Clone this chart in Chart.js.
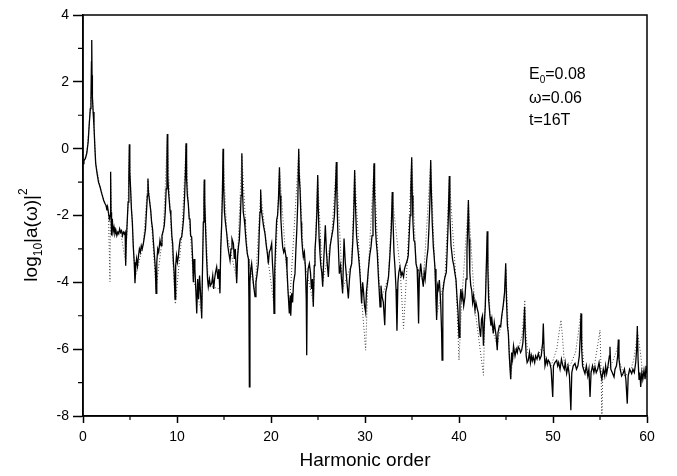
<!DOCTYPE html>
<html>
<head>
<meta charset="utf-8">
<title>Harmonic spectrum</title>
<script src="https://cdn.jsdelivr.net/npm/chart.js@4/dist/chart.umd.min.js"></script>
<style>
  html, body { margin: 0; padding: 0; background: #fff; }
  #wrap { width: 677px; height: 476px; }
</style>
</head>
<body>
<div id="wrap"><canvas id="spectrum" width="677" height="476"></canvas></div>
<script>
// Values
var xTicks = [0, 10, 20, 30, 40, 50, 60];
var yTicks = [-8, -6, -4, -2, 0, 2, 4];
var notes = ['E0=0.08', 'ω=0.06', 't=16T'];

// solid curve: harmonic order / log10 |a|^2
var solidX = [0, 0.1, 0.25, 0.4, 0.55, 0.67, 0.78, 0.85, 0.9, 0.93, 0.96, 1.0, 1.08, 1.17, 1.27, 1.35, 1.5, 1.65, 1.81, 1.95,
  2.1, 2.2, 2.34, 2.45, 2.55, 2.62, 2.7, 2.8, 2.88, 2.94, 2.98, 3.02, 3.06, 3.12, 3.2, 3.3, 3.4, 3.5, 3.6, 3.7,
  3.8, 3.9, 4.0, 4.1, 4.2, 4.3, 4.4, 4.48, 4.54, 4.6, 4.7, 4.8, 4.88, 4.93, 4.98, 5.07, 5.15, 5.25, 5.35, 5.45,
  5.53, 5.6, 5.7, 5.8, 5.89, 6.0, 6.1, 6.2, 6.3, 6.42, 6.55, 6.65, 6.75, 6.85, 6.91, 6.96, 7.05, 7.2, 7.3, 7.4,
  7.48, 7.6, 7.7, 7.77, 7.85, 7.95, 8.05, 8.19, 8.3, 8.4, 8.55, 8.65, 8.75, 8.85, 8.93, 8.97, 9.02, 9.1, 9.26, 9.35,
  9.45, 9.54, 9.62, 9.7, 9.79, 9.86, 9.95, 10.05, 10.14, 10.25, 10.35, 10.5, 10.6, 10.7, 10.8, 10.9, 10.96, 11.02, 11.1, 11.2,
  11.3, 11.38, 11.45, 11.56, 11.65, 11.74, 11.82, 11.9, 12.0, 12.1, 12.2, 12.3, 12.4, 12.5, 12.63, 12.7, 12.8, 12.87, 12.9, 12.95,
  13.05, 13.15, 13.25, 13.33, 13.45, 13.55, 13.69, 13.8, 13.9, 14.0, 14.1, 14.22, 14.35, 14.45, 14.57, 14.65, 14.75, 14.83, 14.9, 14.95,
  15.05, 15.15, 15.29, 15.4, 15.5, 15.64, 15.75, 15.85, 16.0, 16.1, 16.2, 16.35, 16.45, 16.55, 16.63, 16.72, 16.82, 16.9, 16.95, 17.05,
  17.15, 17.23, 17.35, 17.48, 17.6, 17.65, 17.7, 17.76, 17.85, 17.94, 18.05, 18.15, 18.3, 18.4, 18.5, 18.65, 18.75, 18.83, 18.9, 18.96,
  19.05, 19.2, 19.36, 19.5, 19.6, 19.72, 19.82, 19.95, 20.07, 20.15, 20.25, 20.32, 20.4, 20.5, 20.6, 20.7, 20.8, 20.9, 20.96, 21.05,
  21.15, 21.24, 21.35, 21.45, 21.6, 21.7, 21.8, 21.95, 22.05, 22.1, 22.2, 22.3, 22.4, 22.55, 22.65, 22.75, 22.85, 22.95, 23.0, 23.09,
  23.2, 23.26, 23.35, 23.44, 23.55, 23.65, 23.75, 23.8, 23.86, 23.95, 24.08, 24.2, 24.3, 24.4, 24.5, 24.6, 24.68, 24.78, 24.88, 24.97,
  25.03, 25.12, 25.21, 25.3, 25.4, 25.5, 25.6, 25.7, 25.78, 25.9, 26.0, 26.1, 26.2, 26.3, 26.45, 26.6, 26.75, 26.85, 26.95, 27.02,
  27.12, 27.27, 27.4, 27.5, 27.62, 27.7, 27.77, 27.9, 28.05, 28.23, 28.35, 28.45, 28.58, 28.7, 28.8, 28.9, 28.97, 29.1, 29.2, 29.29,
  29.4, 29.5, 29.64, 29.75, 29.85, 29.95, 30.07, 30.15, 30.25, 30.35, 30.5, 30.64, 30.75, 30.85, 30.96, 31.02, 31.12, 31.2, 31.31, 31.42,
  31.5, 31.6, 31.7, 31.8, 31.95, 32.1, 32.2, 32.35, 32.5, 32.65, 32.8, 32.9, 32.97, 33.08, 33.2, 33.3, 33.4, 33.5, 33.6, 33.72,
  33.85, 33.95, 34.1, 34.2, 34.3, 34.5, 34.6, 34.7, 34.8, 34.88, 34.97, 35.03, 35.1, 35.2, 35.3, 35.43, 35.55, 35.63, 35.7, 35.78,
  35.92, 36.05, 36.2, 36.3, 36.4, 36.56, 36.7, 36.8, 36.9, 36.99, 37.05, 37.15, 37.27, 37.35, 37.45, 37.55, 37.62, 37.72, 37.8, 37.91,
  38.05, 38.15, 38.2, 38.28, 38.4, 38.51, 38.65, 38.75, 38.85, 38.97, 39.03, 39.15, 39.33, 39.45, 39.55, 39.68, 39.8, 39.9, 40.0, 40.1,
  40.2, 40.3, 40.39, 40.5, 40.64, 40.75, 40.85, 40.93, 41.0, 41.07, 41.15, 41.25, 41.35, 41.45, 41.55, 41.7, 41.8, 41.95, 42.06, 42.15,
  42.3, 42.4, 42.5, 42.6, 42.7, 42.8, 42.9, 43.0, 43.07, 43.15, 43.3, 43.4, 43.5, 43.65, 43.75, 43.85, 43.95, 44.07, 44.15, 44.3,
  44.43, 44.55, 44.7, 44.85, 44.97, 45.05, 45.15, 45.25, 45.35, 45.5, 45.6, 45.7, 45.8, 45.96, 46.1, 46.2, 46.3, 46.45, 46.55, 46.67,
  46.8, 46.9, 46.98, 47.05, 47.15, 47.25, 47.37, 47.5, 47.6, 47.7, 47.8, 47.9, 48.05, 48.15, 48.3, 48.44, 48.6, 48.75, 48.9, 48.97,
  49.05, 49.15, 49.3, 49.4, 49.5, 49.65, 49.8, 49.97, 50.05, 50.2, 50.39, 50.5, 50.6, 50.75, 50.9, 51.05, 51.2, 51.3, 51.45, 51.6,
  51.75, 51.9, 52.0, 52.15, 52.34, 52.5, 52.65, 52.8, 52.9, 52.98, 53.05, 53.15, 53.25, 53.4, 53.55, 53.7, 53.82, 53.94, 54.05, 54.2,
  54.35, 54.47, 54.6, 54.75, 54.9, 55.05, 55.2, 55.35, 55.5, 55.6, 55.71, 55.85, 56.0, 56.06, 56.15, 56.3, 56.49, 56.6, 56.75, 56.88,
  56.95, 57.02, 57.15, 57.3, 57.45, 57.6, 57.75, 57.9, 58.0, 58.15, 58.37, 58.5, 58.65, 58.8, 58.9, 58.97, 59.05, 59.15, 59.25, 59.33,
  59.45, 59.55, 59.68, 59.8, 59.9, 60.0];
var solidY = [-0.45, -0.35, -0.3, -0.14, 0.2, 0.76, 1.2, 1.55, 2.6, 3.25, 2.2, 1.55, 1.1, 0.66, 0.0, -0.44, -0.75, -1.0, -1.14, -1.3,
  -1.45, -1.55, -1.64, -1.7, -1.85, -1.75, -1.9, -2.1, -2.0, -0.69, -1.9, -2.6, -2.3, -2.1, -2.5, -2.35, -2.55, -2.45, -2.6, -2.5,
  -2.55, -2.4, -2.5, -2.45, -2.6, -2.5, -2.55, -2.5, -3.5, -2.8, -2.2, -1.6, -0.9, 0.13, -0.7, -1.24, -1.8, -2.2, -2.94, -3.4,
  -4.03, -3.6, -3.3, -3.5, -3.24, -3.0, -3.1, -2.9, -3.0, -2.84, -2.6, -2.4, -1.9, -1.4, -0.89, -1.3, -1.5, -1.84, -2.2, -2.4,
  -2.74, -3.2, -3.6, -4.33, -3.4, -3.0, -3.1, -2.74, -2.9, -2.6, -2.44, -2.3, -1.9, -1.2, -0.4, 0.44, -0.8, -1.3, -1.84, -2.0,
  -2.6, -2.84, -3.4, -3.7, -4.5, -3.5, -3.2, -3.4, -3.24, -2.9, -2.7, -2.64, -2.4, -2.1, -1.5, -0.7, 0.16, -0.9, -1.4, -1.64,
  -2.1, -2.09, -2.6, -2.64, -3.2, -4.0, -3.3, -3.6, -4.2, -4.93, -3.9, -4.5, -3.8, -4.3, -5.08, -3.8, -2.2, -1.5, -0.92, -1.6,
  -2.5, -3.3, -3.9, -4.13, -3.9, -4.1, -4.03, -3.8, -4.2, -3.9, -3.7, -3.54, -3.9, -3.6, -4.33, -3.0, -2.3, -1.4, 0.0, -1.0,
  -1.9, -2.2, -2.54, -2.9, -3.1, -3.34, -3.0, -2.7, -2.84, -3.3, -3.0, -4.03, -3.2, -2.9, -2.74, -2.2, -1.4, -0.14, -1.1, -1.9,
  -2.1, -2.34, -2.8, -3.14, -3.3, -4.5, -7.13, -4.0, -3.6, -3.44, -3.8, -4.1, -4.43, -4.0, -3.8, -3.44, -2.5, -1.9, -1.22, -1.8,
  -2.0, -2.3, -2.54, -2.9, -3.1, -3.44, -3.1, -3.0, -2.84, -3.4, -3.9, -4.93, -3.6, -2.8, -2.14, -2.0, -1.5, -0.56, -1.4, -2.1,
  -2.6, -2.94, -3.1, -3.0, -3.24, -3.6, -4.2, -4.93, -4.4, -5.0, -4.33, -4.6, -4.0, -3.74, -3.0, -2.4, -1.6, 0.0, -0.8, -1.22,
  -2.2, -2.64, -3.0, -3.24, -3.1, -3.5, -4.5, -6.18, -4.0, -3.6, -3.44, -3.7, -4.2, -3.9, -4.73, -3.5, -3.04, -2.6, -1.9, -0.79,
  -1.8, -2.7, -3.14, -3.5, -3.7, -4.13, -3.4, -2.8, -2.29, -3.1, -3.5, -3.84, -3.3, -2.9, -2.64, -2.4, -2.0, -1.3, -0.4, -1.5,
  -2.6, -3.74, -3.5, -3.9, -4.33, -3.4, -2.69, -3.4, -3.9, -4.48, -3.9, -3.6, -3.44, -2.8, -2.0, -0.64, -1.6, -2.6, -2.9, -3.14,
  -3.5, -3.9, -4.63, -4.0, -4.3, -4.7, -4.9, -4.3, -4.0, -3.64, -3.2, -2.94, -2.6, -1.8, -0.44, -1.3, -2.4, -2.8, -3.14, -3.8,
  -4.2, -4.73, -4.1, -4.4, -4.6, -5.28, -4.3, -4.1, -3.84, -3.2, -2.4, -1.3, -2.0, -3.1, -3.6, -4.2, -5.45, -4.0, -3.7, -3.54,
  -3.8, -3.7, -3.84, -3.6, -3.5, -3.34, -3.2, -2.6, -2.0, -1.2, -0.26, -1.4, -2.2, -2.74, -2.8, -3.44, -3.6, -4.4, -5.23, -3.9,
  -3.44, -3.8, -4.13, -3.7, -3.9, -3.34, -3.0, -2.4, -1.6, -0.34, -1.2, -2.2, -2.94, -3.2, -3.6, -4.5, -5.13, -4.1, -4.2, -3.93,
  -4.6, -5.5, -6.33, -4.3, -4.0, -3.84, -3.7, -3.0, -2.2, -0.82, -2.0, -2.9, -3.34, -3.5, -3.7, -3.93, -4.5, -4.9, -5.65, -4.6,
  -4.2, -4.5, -4.33, -4.7, -4.43, -3.9, -3.0, -2.3, -1.54, -2.7, -3.7, -4.1, -4.23, -4.6, -4.4, -4.83, -4.6, -4.8, -4.93, -5.3,
  -5.63, -5.1, -5.0, -5.9, -5.2, -4.7, -3.6, -2.47, -3.6, -4.5, -5.03, -5.3, -5.1, -5.53, -5.2, -5.4, -5.6, -6.03, -5.5, -5.3,
  -5.33, -5.0, -4.7, -4.3, -3.43, -4.5, -5.3, -5.53, -6.2, -6.9, -6.1, -6.3, -5.9, -6.2, -6.0, -6.1, -5.93, -6.0, -6.1, -6.03,
  -5.8, -5.3, -4.73, -5.6, -6.2, -6.4, -6.33, -6.1, -6.4, -6.2, -6.35, -6.23, -6.4, -6.2, -6.3, -6.13, -6.3, -6.2, -5.8, -5.23,
  -6.0, -6.5, -6.3, -6.45, -6.33, -6.4, -6.6, -7.43, -6.5, -6.4, -6.33, -6.5, -6.4, -6.6, -6.3, -6.5, -6.6, -6.4, -6.73, -6.5,
  -6.8, -7.83, -6.7, -6.5, -6.43, -6.6, -6.5, -6.2, -5.6, -4.93, -6.0, -6.5, -6.6, -6.73, -6.5, -6.8, -6.6, -7.43, -6.7, -6.5,
  -6.7, -6.53, -6.7, -6.6, -6.4, -6.7, -6.9, -6.6, -6.8, -6.5, -6.73, -6.5, -6.2, -5.93, -6.6, -6.7, -6.83, -6.6, -6.5, -6.2,
  -5.71, -6.3, -6.6, -6.8, -6.73, -6.6, -6.9, -7.63, -6.8, -6.6, -6.73, -6.6, -6.7, -6.4, -6.0, -5.31, -6.3, -6.9, -6.7, -7.13,
  -6.7, -6.9, -6.63, -6.9, -6.5, -6.73];

// dotted curve
var dottedX = [0, 0.4, 0.67, 0.85, 1.0, 1.17, 1.35, 1.81, 2.34, 2.7, 2.87, 2.94, 3.05, 3.5, 4.0, 4.54, 4.8, 4.93, 5.07, 5.53,
  6.42, 6.91, 7.2, 7.77, 8.55, 8.97, 9.26, 9.82, 10.5, 10.96, 11.2, 11.74, 12.63, 12.9, 13.33, 14.57, 14.9, 15.29, 16.35, 16.9,
  17.48, 18.3, 18.9, 19.72, 20.32, 20.9, 21.95, 22.95, 23.44, 24.5, 24.97, 25.5, 26.45, 26.95, 27.62, 28.58, 28.9, 29.64, 30.07, 30.35,
  30.96, 31.6, 32.5, 32.9, 33.72, 34.1, 34.5, 34.97, 35.43, 36.2, 36.99, 37.62, 38.51, 38.97, 39.68, 40.0, 40.3, 41.0, 41.7, 42.6,
  42.75, 43.0, 43.3, 43.65, 44.07, 44.5, 44.8, 45.0, 45.15, 45.3, 45.5, 45.8, 46.3, 46.7, 46.9, 47.0, 47.1, 47.3, 47.8, 48.4,
  48.9, 49.2, 49.8, 50.4, 50.7, 50.85, 51.0, 51.2, 51.8, 52.4, 52.7, 52.95, 53.1, 53.3, 53.8, 54.4, 54.8, 55.0, 55.1, 55.2,
  55.3, 55.8, 56.3, 56.7, 56.9, 57.1, 57.6, 58.2, 58.6, 59.0, 59.3, 59.6, 60.0];
var dottedY = [-0.45, -0.14, 0.76, 1.55, 1.55, 0.66, -0.44, -1.14, -1.64, -1.9, -3.98, -0.9, -2.44, -2.45, -2.5, -3.4, -1.6, 0.05, -1.24, -3.9,
  -2.84, -0.95, -1.84, -4.2, -2.44, 0.35, -1.84, -4.65, -2.64, 0.1, -1.64, -3.9, -4.9, -1.0, -4.1, -4.2, -0.1, -2.54, -3.9, -0.2,
  -3.14, -4.3, -1.3, -3.4, -4.7, -0.6, -4.8, -0.1, -3.24, -4.6, -0.85, -4.0, -2.64, -0.5, -4.2, -3.44, -0.7, -4.5, -6.03, -3.64,
  -0.5, -4.6, -3.84, -1.4, -3.54, -5.38, -3.34, -0.35, -3.44, -4.0, -0.4, -5.0, -3.84, -0.9, -3.93, -6.33, -4.5, -1.6, -4.8, -6.78,
  -5.0, -2.6, -5.0, -5.5, -5.9, -5.2, -4.5, -3.6, -4.8, -5.8, -6.9, -6.0, -6.0, -5.6, -4.9, -4.53, -5.4, -6.1, -6.2, -6.2,
  -5.9, -6.3, -6.5, -6.0, -5.4, -5.13, -5.6, -6.4, -6.5, -6.1, -5.5, -4.93, -5.8, -6.6, -6.8, -6.5, -5.8, -5.43, -6.5, -8.0,
  -6.7, -6.6, -6.4, -6.1, -5.9, -6.4, -6.8, -6.7, -6.3, -5.5, -6.1, -6.9, -6.8];

(function () {
  'use strict';

  var FONT = '"Liberation Sans", Arial, Helvetica, sans-serif';

  function pairs(xs, ys) {
    return xs.map(function (x, i) { return { x: x, y: ys[i] }; });
  }

  // frame, minor ticks, y title and the note text
  var decor = {
    id: 'decor',
    afterDraw: function (chart) {
      var ctx = chart.ctx;
      var a = chart.chartArea;
      var xs = chart.scales.x, ys = chart.scales.y;
      ctx.save();
      ctx.strokeStyle = '#000';
      ctx.lineWidth = 1.5;
      ctx.strokeRect(a.left, a.top, a.right - a.left, a.bottom - a.top);

      ctx.lineWidth = 1.2;
      ctx.beginPath();
      for (var v = 5; v < 60; v += 10) {
        var px = xs.getPixelForValue(v);
        ctx.moveTo(px, a.bottom);
        ctx.lineTo(px, a.bottom + 4);
      }
      for (var w = -7; w < 4; w += 2) {
        var py = ys.getPixelForValue(w);
        ctx.moveTo(a.left, py);
        ctx.lineTo(a.left - 5, py);
      }
      ctx.stroke();

      // y axis title: log10|a(ω)|²
      ctx.fillStyle = '#000';
      ctx.textBaseline = 'alphabetic';
      ctx.textAlign = 'left';
      var big = '19px ' + FONT, small = '12px ' + FONT;
      var parts = [
        { t: 'log', f: big, dy: 0 },
        { t: '10', f: small, dy: 5 },
        { t: '|a(ω)|', f: big, dy: 0 },
        { t: '2', f: small, dy: -10 }
      ];
      var total = 0;
      parts.forEach(function (p) { ctx.font = p.f; p.w = ctx.measureText(p.t).width; total += p.w; });
      ctx.translate(37, 235);
      ctx.rotate(-Math.PI / 2);
      var cx = -total / 2;
      parts.forEach(function (p) {
        ctx.font = p.f;
        ctx.fillText(p.t, cx, p.dy);
        cx += p.w;
      });
      ctx.setTransform(1, 0, 0, 1, 0, 0);

      // parameter note
      var nx = 529;
      ctx.font = '16px ' + FONT;
      ctx.fillText(notes[0].charAt(0), nx, 79);
      var ew = ctx.measureText(notes[0].charAt(0)).width;
      ctx.font = '10px ' + FONT;
      ctx.fillText(notes[0].charAt(1), nx + ew, 83);
      var sw = ctx.measureText(notes[0].charAt(1)).width;
      ctx.font = '16px ' + FONT;
      ctx.fillText(notes[0].slice(2), nx + ew + sw, 79);
      ctx.fillText(notes[1], nx, 103);
      ctx.fillText(notes[2], nx, 125);
      ctx.restore();
    }
  };

  var canvas = document.getElementById('spectrum');
  new Chart(canvas.getContext('2d'), {
    type: 'line',
    data: {
      datasets: [{
        label: 'solid',
        data: pairs(solidX, solidY),
        borderColor: '#000',
        borderWidth: 1.3,
        pointRadius: 0,
        tension: 0,
        fill: false
      }, {
        label: 'dotted',
        data: pairs(dottedX, dottedY),
        borderColor: '#444',
        borderWidth: 1,
        borderDash: [1, 2],
        pointRadius: 0,
        tension: 0,
        fill: false
      }]
    },
    options: {
      responsive: false,
      animation: false,
      layout: { padding: { left: 0, top: 15, right: 30, bottom: 0 } },
      plugins: {
        legend: { display: false },
        tooltip: { enabled: false }
      },
      scales: {
        x: {
          type: 'linear',
          min: xTicks[0],
          max: xTicks[xTicks.length - 1],
          afterBuildTicks: function (s) { s.ticks = xTicks.map(function (v) { return { value: v }; }); },
          afterFit: function (s) { s.height = 60; },
          grid: { drawOnChartArea: false, tickLength: 7, tickColor: '#000', tickWidth: 1.5 },
          border: { color: '#000', width: 1.5 },
          ticks: { color: '#000', padding: 6, maxRotation: 0, font: { family: FONT, size: 14 } },
          title: { display: true, text: 'Harmonic order', color: '#000', padding: { top: 13 }, font: { family: FONT, size: 19 } }
        },
        y: {
          min: yTicks[0],
          max: yTicks[yTicks.length - 1],
          afterBuildTicks: function (s) { s.ticks = yTicks.map(function (v) { return { value: v }; }); },
          afterFit: function (s) { s.width = 83; },
          grid: { drawOnChartArea: false, tickLength: 10, tickColor: '#000', tickWidth: 1.5 },
          border: { color: '#000', width: 1.5 },
          ticks: { color: '#000', padding: 4, font: { family: FONT, size: 14 } }
        }
      }
    },
    plugins: [decor]
  });
})();
</script>
</body>
</html>
